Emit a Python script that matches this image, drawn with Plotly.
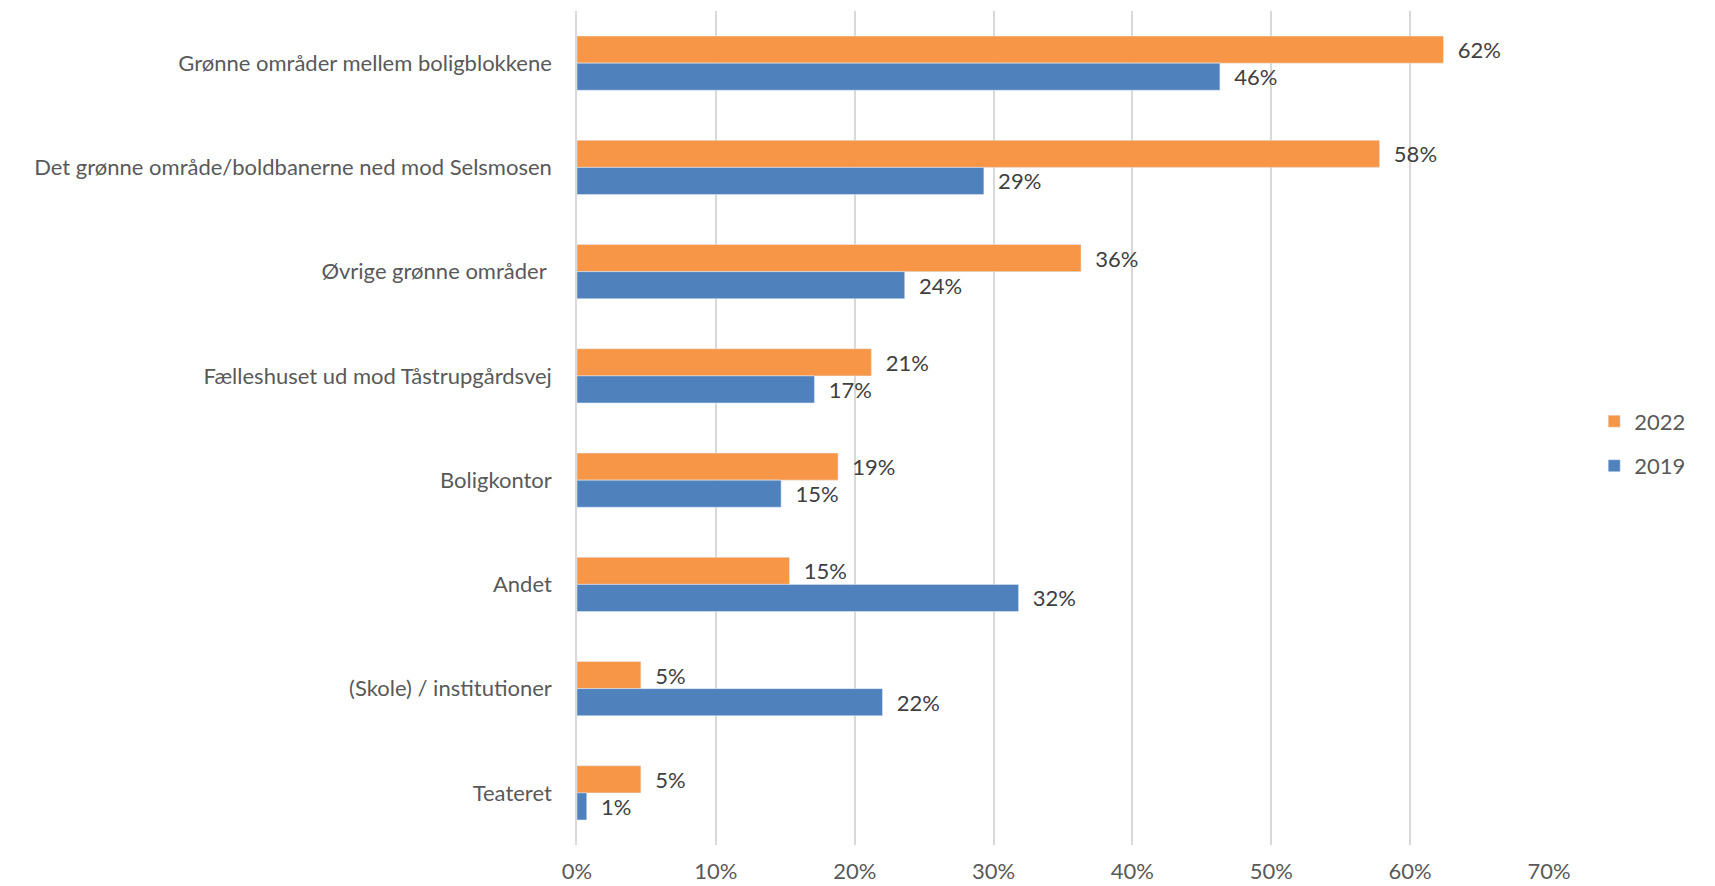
import plotly.graph_objects as go

categories = [
    "Grønne områder mellem boligblokkene",
    "Det grønne område/boldbanerne ned mod Selsmosen",
    "Øvrige grønne områder ",
    "Fælleshuset ud mod Tåstrupgårdsvej",
    "Boligkontor",
    "Andet",
    "(Skole) / institutioner",
    "Teateret",
]
values_2022 = [0.624, 0.578, 0.363, 0.212, 0.188, 0.153, 0.046, 0.046]
values_2019 = [0.463, 0.293, 0.236, 0.171, 0.147, 0.318, 0.220, 0.007]
tick_vals = [0, 0.1, 0.2, 0.3, 0.4, 0.5, 0.6, 0.7]
tick_text = ["0%", "10%", "20%", "30%", "40%", "50%", "60%", "70%"]

FONT = "Lato"
TXT = "#595959"
FS = 22

fig = go.Figure()
fig.add_trace(go.Bar(
    y=categories, x=values_2022, orientation="h", name="2022",
    marker=dict(color="#F79646"), legendgroup="a",
    texttemplate="\u00a0\u00a0%{x:.0%}", textposition="outside",
    constraintext="none", cliponaxis=False,
    textfont=dict(family=FONT, size=FS, color="#404040"),
))
fig.add_trace(go.Bar(
    y=categories, x=values_2019, orientation="h", name="2019",
    marker=dict(color="#4F81BD"), legendgroup="b",
    texttemplate="\u00a0\u00a0%{x:.0%}", textposition="outside",
    constraintext="none", cliponaxis=False,
    textfont=dict(family=FONT, size=FS, color="#404040"),
))

fig.update_layout(
    width=1707, height=878,
    margin=dict(l=569, r=166, t=3, b=41),
    paper_bgcolor="white", plot_bgcolor="white",
    barmode="group", bargap=0.48, bargroupgap=0,
    font=dict(family=FONT, size=FS, color=TXT),
    legend=dict(
        x=1.0465, y=0.481, xanchor="left", yanchor="middle",
        traceorder="grouped", tracegroupgap=13,
        font=dict(family=FONT, size=FS, color=TXT),
    ),
    xaxis=dict(
        range=[0, 0.7], tickvals=tick_vals, ticktext=tick_text,
        showgrid=True, gridcolor="#D9D9D9", gridwidth=1.5,
        zeroline=False, showline=False, ticks="",
        ticklabelstandoff=11, automargin=False,
        tickfont=dict(family=FONT, size=FS, color=TXT),
    ),
    yaxis=dict(
        autorange="reversed", showgrid=False, zeroline=False,
        showline=True, linecolor="#D9D9D9", linewidth=1.5, ticks="",
        ticklabelstandoff=19, automargin=False,
        tickfont=dict(family=FONT, size=FS, color=TXT),
    ),
)

fig.write_html("out.html")
